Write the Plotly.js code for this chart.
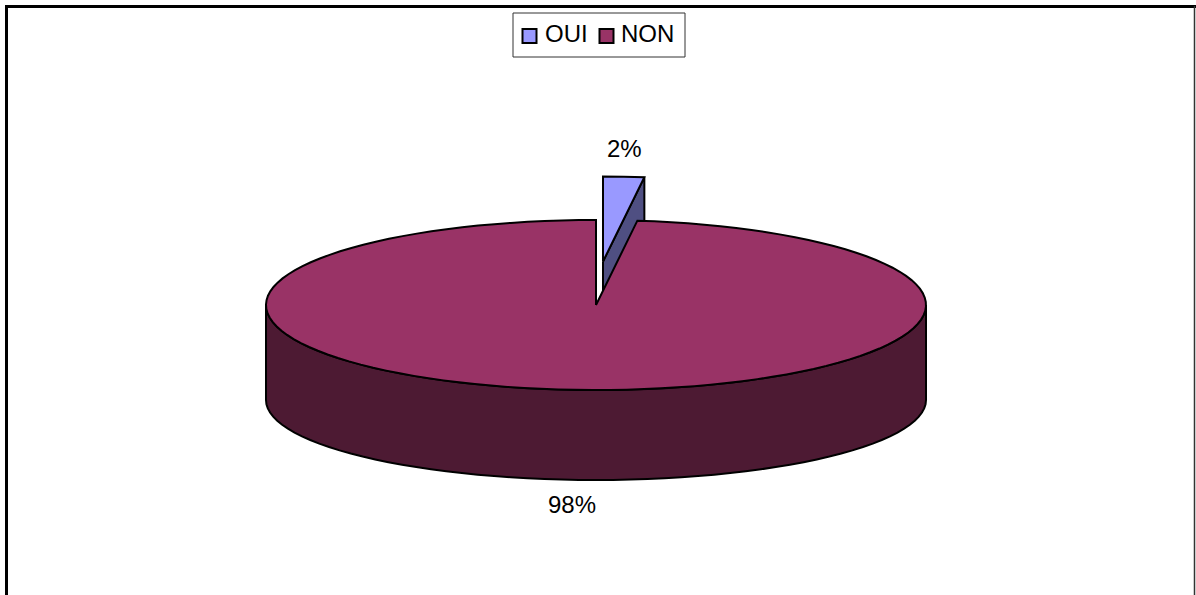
<!DOCTYPE html>
<html><head><meta charset="utf-8">
<script src="https://cdn.plot.ly/plotly-3.0.1.min.js"></script>
<style>html,body{margin:0;padding:0;background:#fff}#c{width:1196px;height:595px}</style>
</head><body><div id="c"></div>
<script>
const categories = ['OUI', 'NON'];
const values = [2, 98];
const labels = ['2%', '98%'];
const colors = ['#9999FF', '#993366'];
const darkColors = ['#4F4F82', '#4D1A33'];

const cx = 596, cy = 305, rx = 330, ry = 85, depth = 90;
const lowerDrop = 95, lowerRy = 80;
const explode = [7, -43.5];
const total = values.reduce((a, b) => a + b, 0);
const sweep = values[0] / total * 360;

function rim(deg, ox, oy, rY) {
  const r = deg * Math.PI / 180;
  return [cx + ox + rx * Math.sin(r), cy + oy - rY * Math.cos(r)];
}
function arc(a0, a1, ox, oy, rY) {
  const n = Math.max(2, Math.round(Math.abs(a1 - a0) / 3));
  const pts = [];
  for (let i = 0; i <= n; i++) pts.push(rim(a0 + (a1 - a0) * i / n, ox, oy, rY));
  return pts;
}
function poly(pts, color, name) {
  return {type: 'scatter', mode: 'lines', x: pts.map(p => p[0]), y: pts.map(p => p[1]),
    fill: 'toself', fillcolor: color, line: {color: '#000', width: 2, simplify: false},
    hoverinfo: 'skip', showlegend: false, name: name};
}
const [ex, ey] = explode;
const apex = [cx + ex, cy + ey];
const ouiTop = [apex, ...arc(0, sweep, ex, ey, ry), apex];
const edge = rim(sweep, ex, ey, ry);
const ouiFace = [apex, edge, [edge[0], edge[1] + depth], [apex[0], apex[1] + depth], apex];
const nonSide = [...arc(90, 270, 0, 0, ry), ...arc(270, 90, 0, lowerDrop, lowerRy)];
nonSide.push(nonSide[0]);
const nonTop = [[cx, cy], ...arc(sweep, 360, 0, 0, ry), [cx, cy]];

const traces = [
  poly(ouiFace, darkColors[0], 'OUI face'),
  poly(ouiTop, colors[0], categories[0]),
  poly(nonSide, darkColors[1], 'NON side'),
  poly(nonTop, colors[1], categories[1])
];
const font = {family: 'Liberation Sans, Arial, sans-serif', size: 24, color: '#000'};
const hidden = {visible: false, fixedrange: true};
const swatchX = [522.5, 599.5], legendTextX = [545, 621];
const swatches = categories.map((c, i) => ({
  type: 'rect', x0: swatchX[i], x1: swatchX[i] + 14, y0: 29, y1: 43,
  fillcolor: colors[i], line: {color: '#000', width: 2}
}));
const legendTexts = categories.map((c, i) => ({
  x: legendTextX[i], y: 33, text: c, showarrow: false, xanchor: 'left', yanchor: 'middle',
  xshift: -2, font: font
}));
const layout = {
  width: 1196, height: 595, margin: {l: 0, r: 0, t: 0, b: 0},
  paper_bgcolor: '#fff', plot_bgcolor: '#fff', font: font,
  xaxis: {...hidden, range: [0, 1196]},
  yaxis: {...hidden, range: [595, 0]},
  showlegend: false,
  annotations: [
    {x: 624.5, y: 148, text: labels[0], showarrow: false, xanchor: 'center', yanchor: 'middle', font: font},
    {x: 572, y: 504, text: labels[1], showarrow: false, xanchor: 'center', yanchor: 'middle', font: font},
    ...legendTexts
  ],
  shapes: [
    {type: 'path', path: 'M6.5,610 L6.5,6.5 L1196,6.5', line: {color: '#000', width: 3}, layer: 'below'},
    {type: 'line', x0: 1194.5, x1: 1194.5, y0: 6, y1: 610, line: {color: '#333', width: 1.5}, layer: 'below'},
    {type: 'rect', x0: 513, x1: 685, y0: 13, y1: 57, fillcolor: '#fff', line: {color: '#333', width: 1}},
    ...swatches
  ]
};
Plotly.newPlot('c', traces, layout, {displayModeBar: false, staticPlot: true});
</script></body></html>
